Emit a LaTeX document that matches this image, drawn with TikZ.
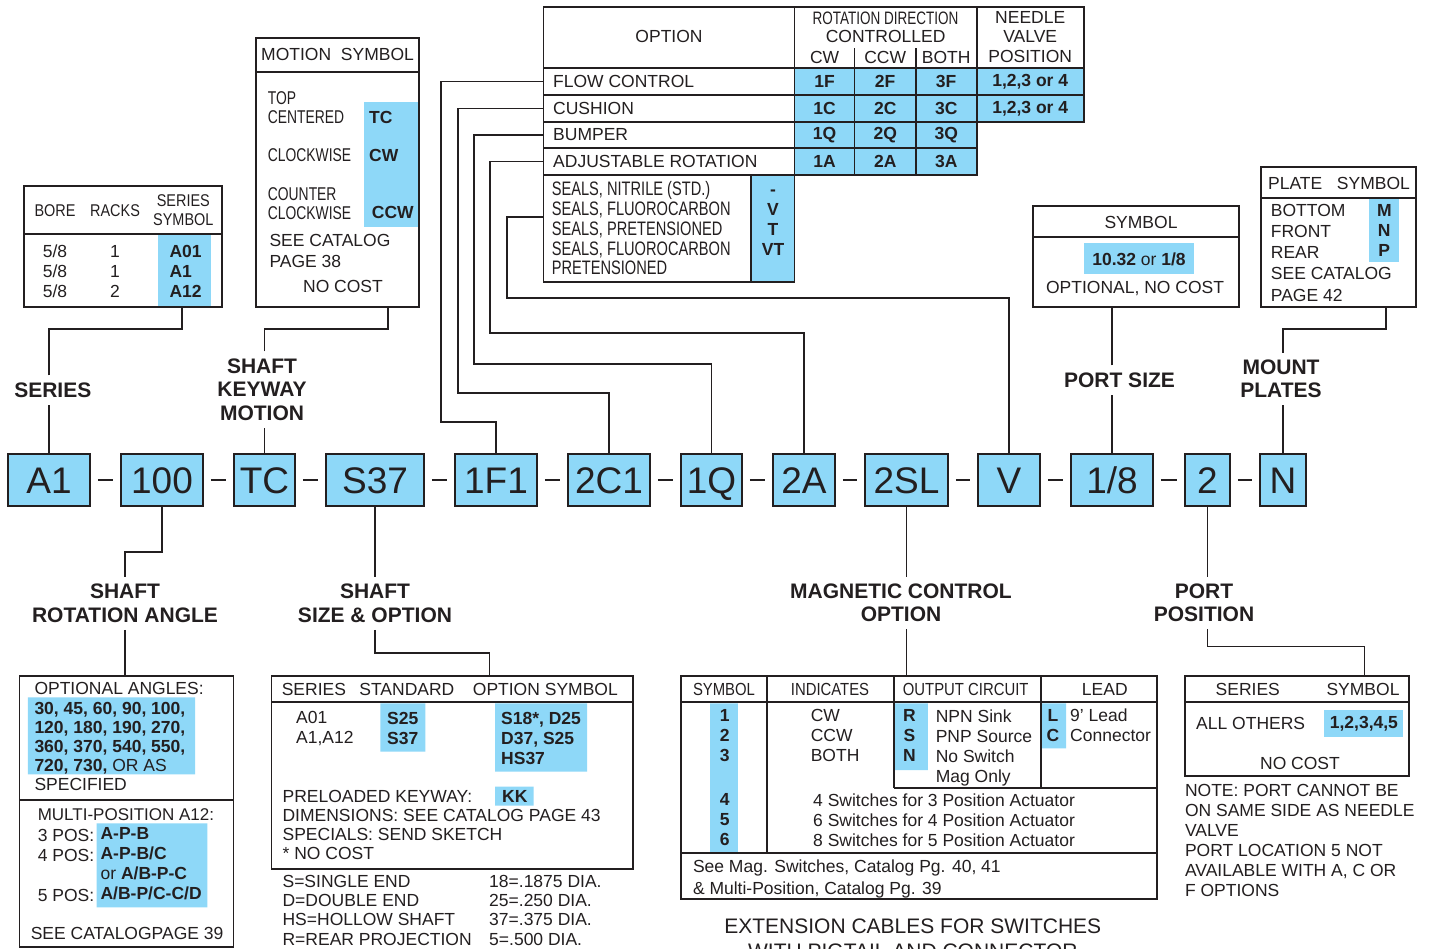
\documentclass[tikz,border=0pt]{standalone}
\usepackage{fontspec}
\setmainfont{Liberation Sans}
\newfontfamily\cond[FakeStretch=0.85]{Liberation Sans}
\newfontfamily\ncond[FakeStretch=0.75]{Liberation Sans}
\usetikzlibrary{positioning}
\definecolor{ink}{HTML}{231F20}
\definecolor{sky}{HTML}{8ED8F8}
\newcommand{\fsz}[2]{\fontsize{#1}{#2}\selectfont}

\tikzset{
  wire/.style={draw=ink, line width=1.5pt},
  frame/.style={draw=ink, line width=1.7pt},
  code/.style={draw=ink, fill=sky, line width=1.8pt, minimum height=52pt, inner sep=0pt,
    text height=27pt, text depth=0pt, text=ink, font=\fsz{37}{40}},
  sep/.style={draw=ink, line width=1.5pt, shorten <=7pt, shorten >=7pt},
  head/.style={text=ink, font=\bfseries\fsz{21}{23.5}, align=center, inner sep=7pt},
  txt/.style={text=ink, font=\fsz{17.5}{20}, inner sep=0pt, anchor=west, align=left},
  ctxt/.style={text=ink, font=\fsz{17.5}{20}, inner sep=0pt, align=center},
  sym/.style={text=ink, font=\bfseries\fsz{17.5}{20}, inner sep=0pt, align=center},
  bsym/.style={txt, font=\bfseries\fsz{17.5}{20}},
  ctitle/.style={ctxt, font=\cond\fsz{17.5}{20}}
}

\begin{document}
\begin{tikzpicture}[x=1pt, y=-1pt]
\useasboundingbox (0,0) rectangle (1430,948);
\fill[white] (0,0) rectangle (1430,948);

% Nodes: the model code
\node[code, minimum width=82pt] (a1) at (49,480) {A1};
\node[code, minimum width=82pt] (n100) at (162,480) {100};
\node[code, minimum width=61pt] (tc) at (264.5,480) {TC};
\node[code, minimum width=98pt] (s37) at (375,480) {S37};
\node[code, minimum width=82pt] (f1) at (496,480) {1F1};
\node[code, minimum width=82pt] (c1) at (609,480) {2C1};
\node[code, minimum width=61pt] (q1) at (711.5,480) {1Q};
\node[code, minimum width=62pt] (a2) at (804,480) {2A};
\node[code, minimum width=83pt] (sl) at (906.5,480) {2SL};
\node[code, minimum width=62pt] (v) at (1009,480) {V};
\node[code, minimum width=82pt] (p18) at (1112,480) {1/8};
\node[code, minimum width=45pt] (p2) at (1207.5,480) {2};
\node[code, minimum width=46pt] (n) at (1283,480) {N};
\draw[sep] (a1.east) -- (n100.west);
\draw[sep] (n100.east) -- (tc.west);
\draw[sep] (tc.east) -- (s37.west);
\draw[sep] (s37.east) -- (f1.west);
\draw[sep] (f1.east) -- (c1.west);
\draw[sep] (c1.east) -- (q1.west);
\draw[sep] (q1.east) -- (a2.west);
\draw[sep] (a2.east) -- (sl.west);
\draw[sep] (sl.east) -- (v.west);
\draw[sep] (v.east) -- (p18.west);
\draw[sep] (p18.east) -- (p2.west);
\draw[sep] (p2.east) -- (n.west);

% Nodes: headings
\node[head] (series) at (52.8,390) {SERIES};
\node[head] (keyway) at (262,389.5) {SHAFT\\KEYWAY\\MOTION};
\node[head] (portsize) at (1119.5,380) {PORT SIZE};
\node[head] (mount) at (1281,379) {MOUNT\\PLATES};
\node[head] (rotang) at (125,603.5) {SHAFT\\ROTATION ANGLE};
\node[head] (shsize) at (375,603.5) {SHAFT\\SIZE \& OPTION};
\node[head] (magopt) at (901,603) {MAGNETIC CONTROL\\OPTION};
\node[head] (portpos) at (1204,603) {PORT\\POSITION};

% Bore table
\fill[sky] (158,235) rectangle (211.3,306.7);
\draw[frame] (24,186) rectangle (222.3,306.7) (24,234.3) -- (222.3,234.3);
\coordinate (boreout) at (182,306.7);
\node[ctitle, font=\cond\fsz{17}{18.3}] (bore) at (55,211) {BORE};
\node[ctitle, font=\cond\fsz{17}{18.3}] (racks) at (115,211) {RACKS};
\node[ctitle, font=\cond\fsz{17}{18.3}] (sersym) at (183.3,210) {SERIES\\SYMBOL};
\node[ctxt] (borecol) at (55,271) {5/8\\5/8\\5/8};
\node[ctxt] (rackcol) at (115,271) {1\\1\\2};
\node[bsym] (sercol) at (169.3,271) {A01\\A1\\A12};

% Motion table
\fill[sky] (364.3,101.7) rectangle (419.3,226.7);
\draw[frame] (255.7,38.3) rectangle (419.3,306.7) (255.7,71.7) -- (419.3,71.7);
\coordinate (motionout) at (388,306.7);
\node[txt] (mothead) at (261,54) {MOTION\ \ SYMBOL};
\node[txt, font=\ncond\fsz{18.5}{19}] (topc) at (267.7,107.8) {TOP\\CENTERED};
\node[txt, font=\ncond\fsz{18.5}{19}] (cwise) at (267.7,155) {CLOCKWISE};
\node[txt, font=\ncond\fsz{18.5}{19}] (ccwise) at (267.7,203.3) {COUNTER\\CLOCKWISE};
\node[bsym] (tcsym) at (369,117.3) {TC};
\node[bsym] (cwsym) at (369,155) {CW};
\node[bsym] (ccwsym) at (371.7,212.7) {CCW};
\node[txt, font=\fsz{17.5}{21.3}] (motcat) at (269.3,251.3) {SEE CATALOG\\PAGE 38};
\node[ctxt] (motcost) at (343,286.7) {NO COST};

% Option table
\fill[sky] (794.6,67.7) rectangle (976.7,175) (976.7,67.7) rectangle (1083.7,121.7)
  (751,175) rectangle (794.6,281.7);
\draw[frame] (543.5,7.3) rectangle (1083.7,121.7);
\draw[frame] (543.5,121.7) rectangle (976.7,175);
\draw[frame] (543.5,175) rectangle (794.6,281.7);
\draw[frame] (543.5,67.7) -- (1083.7,67.7) (543.5,95) -- (1083.7,95)
  (543.5,148.3) -- (976.7,148.3) (794.6,7.3) -- (794.6,175) (976.7,7.3) -- (976.7,121.7)
  (854.6,48) -- (854.6,175) (915.7,48) -- (915.7,175) (751,175) -- (751,281.7);
\coordinate (flowrow) at (543.5,81.3);
\coordinate (cushrow) at (543.5,108.3);
\coordinate (bumprow) at (543.5,135);
\coordinate (adjrow) at (543.5,161.7);
\coordinate (sealrow) at (543.5,217);
\node[ctxt] (opthead) at (669,36) {OPTION};
\node[ctitle, font=\ncond\fsz{18}{18}] (rotdir) at (885.6,18) {ROTATION DIRECTION};
\node[ctxt] (ctrl) at (885.6,36.7) {CONTROLLED};
\node[ctxt] (cwhead) at (824.6,57) {CW};
\node[ctxt] (ccwhead) at (885.2,57) {CCW};
\node[ctxt] (bothhead) at (946.2,57) {BOTH};
\node[ctxt, font=\fsz{17.5}{19.5}] (needle) at (1030.2,37) {NEEDLE\\VALVE\\POSITION};
\node[txt] (flow) at (553,81.3) {FLOW CONTROL};
\node[txt] (cush) at (553,108.3) {CUSHION};
\node[txt] (bump) at (553,135) {BUMPER};
\node[txt] (adj) at (553,161.7) {ADJUSTABLE ROTATION};
\node[sym] (cwf) at (824.6,81.3) {1F};
\node[sym] (ccwf) at (885.2,81.3) {2F};
\node[sym] (bothf) at (946.2,81.3) {3F};
\node[sym] (cwc) at (824.6,108.3) {1C};
\node[sym] (ccwc) at (885.2,108.3) {2C};
\node[sym] (bothc) at (946.2,108.3) {3C};
\node[sym] (cwq) at (824.6,135) {1Q};
\node[sym] (ccwq) at (885.2,135) {2Q};
\node[sym] (bothq) at (946.2,135) {3Q};
\node[sym] (cwa) at (824.6,161.7) {1A};
\node[sym] (ccwa) at (885.2,161.7) {2A};
\node[sym] (botha) at (946.2,161.7) {3A};
\node[sym] (nvf) at (1030.2,81.3) {1,2,3 or 4};
\node[sym] (nvc) at (1030.2,108.3) {1,2,3 or 4};
\node[txt, font=\ncond\fsz{19.5}{19.75}] (seals) at (551.6,228.5)
  {SEALS, NITRILE (STD.)\\SEALS, FLUOROCARBON\\SEALS, PRETENSIONED\\SEALS, FLUOROCARBON\\PRETENSIONED};
\node[sym] (sealsym) at (773,219) {\vphantom{V}-\\V\\T\\VT};

% Port size table
\fill[sky] (1084,242.7) rectangle (1194,274);
\draw[frame] (1033.3,206) rectangle (1239,306.7) (1033.3,236.7) -- (1239,236.7);
\coordinate (symout) at (1112,306.7);
\node[ctxt] (symhead) at (1141,222.3) {SYMBOL};
\node[ctxt] (psize) at (1139,259) {\textbf{10.32} or \textbf{1/8}};
\node[ctxt] (psopt) at (1135,288.3) {OPTIONAL, NO COST};

% Plate table
\fill[sky] (1369.3,199.3) rectangle (1399.3,261.7);
\draw[frame] (1261,167.3) rectangle (1416,306.7) (1261,198.3) -- (1416,198.3);
\coordinate (plateout) at (1386,306.7);
\node[txt] (platehead) at (1268,183.3) {PLATE\ \ \ SYMBOL};
\node[txt, font=\fsz{17.5}{21.1}] (plates) at (1270.7,252.8) {BOTTOM\\FRONT\\REAR\\SEE CATALOG\\PAGE 42};
\node[sym, font=\bfseries\fsz{17.5}{19.7}] (platesym) at (1384.3,230.4) {M\\N\\P};

% Rotation angle table
\fill[sky] (27.8,697.3) rectangle (195,774.3) (96.7,823.3) rectangle (207.3,907.3);
\draw[frame] (19.6,675.7) rectangle (233.5,947) (19.6,800) -- (233.5,800);
\coordinate (angin) at (125,675.7);
\node[txt] (anghead) at (34.3,688.3) {OPTIONAL ANGLES:};
\node[txt, font=\fsz{17.5}{19}] (angles) at (34.3,746.2)
  {\textbf{30, 45, 60, 90, 100,}\\\textbf{120, 180, 190, 270,}\\\textbf{360, 370, 540, 550,}\\\textbf{720, 730,} OR AS\\SPECIFIED};
\node[txt, font=\fsz{17}{20}] (multi) at (37.6,815) {MULTI-POSITION A12:};
\node[txt] (poslbl) at (37.6,865) {3 POS:\\4 POS:\\\mbox{}\\5 POS:};
\node[txt] (posval) at (100.4,864) {\textbf{A-P-B}\\\textbf{A-P-B/C}\\or \textbf{A/B-P-C}\\\textbf{A/B-P/C-C/D}};
\node[txt] (angcat) at (30.6,933.3) {SEE CATALOGPAGE 39};

% Shaft size table
\fill[sky] (380.4,703.3) rectangle (425.3,751.7) (495,703.3) rectangle (587,771.7)
  (495,786.7) rectangle (533.5,805.7);
\draw[frame] (271.4,675.7) rectangle (632.7,869) (271.4,702.3) -- (632.7,702.3);
\coordinate (shaftin) at (489.5,675.7);
\node[txt] (shser) at (281.6,689) {SERIES};
\node[txt] (shstd) at (359.2,689) {STANDARD};
\node[txt] (shopt) at (472.7,689) {OPTION SYMBOL};
\node[txt] (shrow) at (296,728.3) {A01\\A1,A12};
\node[bsym] (shstdv) at (387,728.3) {S25\\S37};
\node[bsym] (shoptv) at (501,738) {S18*, D25\\D37, S25\\HS37};
\node[txt, font=\fsz{17.5}{19}] (shnotes) at (282.4,825)
  {PRELOADED KEYWAY:\\DIMENSIONS: SEE CATALOG PAGE 43\\SPECIALS: SEND SKETCH\\* NO COST};
\node[bsym] (kk) at (502,796.7) {KK};
\node[txt, font=\fsz{17.5}{19.4}] (shends) at (282.4,910.2)
  {S=SINGLE END\\D=DOUBLE END\\HS=HOLLOW SHAFT\\R=REAR PROJECTION};
\node[txt, font=\fsz{17.5}{19.4}] (shdia) at (489,910.2)
  {18=.1875 DIA.\\25=.250 DIA.\\37=.375 DIA.\\5=.500 DIA.};

% Magnetic control table
\fill[sky] (710.2,703.3) rectangle (737.9,852.7) (895,703.3) rectangle (927.9,770)
  (1041.8,703.3) rectangle (1066,748.3);
\draw[frame] (680.7,675.7) rectangle (1157,899.3) (680.7,702.3) -- (1157,702.3)
  (680.7,852.7) -- (1157,852.7) (894,788.3) -- (1157,788.3) (767,675.7) -- (767,852.7)
  (894,675.7) -- (894,788.3) (1040.8,675.7) -- (1040.8,788.3);
\coordinate (magin) at (906.5,675.7);
\node[ctitle] (msymhead) at (724,689) {SYMBOL};
\node[ctitle] (mindhead) at (830,689) {INDICATES};
\node[ctitle] (mouthead) at (965.7,689) {OUTPUT CIRCUIT};
\node[ctxt] (mleadhead) at (1104.8,689) {LEAD};
\node[sym] (msyma) at (724.8,735.7) {1\\2\\3};
\node[sym] (msymb) at (724.8,820) {4\\5\\6};
\node[txt] (mdir) at (810.6,735.7) {CW\\CCW\\BOTH};
\node[sym] (mcirc) at (909.5,735.7) {R\\S\\N};
\node[txt, font=\fsz{17.5}{20.3}] (mcircd) at (935.6,748) {NPN Sink\\PNP Source\\No Switch\\Mag Only};
\node[sym] (mleadsym) at (1053,725.7) {L\\C};
\node[txt] (mleadd) at (1070,725.7) {9' Lead\\Connector};
\node[txt] (mswitch) at (813,820)
  {4 Switches for 3 Position Actuator\\6 Switches for 4 Position Actuator\\8 Switches for 5 Position Actuator};
\node[txt, font=\fsz{17.5}{21.6}] (mnote) at (692.8,879)
  {See Mag. Switches, Catalog Pg. 40, 41\\\& Multi-Position, Catalog Pg. 39};
\node[ctxt, font=\fsz{21}{25}] (extcab) at (912.8,939) {EXTENSION CABLES FOR SWITCHES\\WITH PIGTAIL AND CONNECTOR};

% Port position table
\fill[sky] (1324.4,710) rectangle (1403.4,736.7);
\draw[frame] (1185.3,675.7) rectangle (1409.2,776) (1185.3,702.3) -- (1409.2,702.3);
\coordinate (portin) at (1364.6,675.7);
\node[ctxt] (pser) at (1247.8,689) {SERIES};
\node[ctxt] (psym) at (1363,689) {SYMBOL};
\node[txt] (pall) at (1196,723.3) {ALL OTHERS};
\node[sym] (pvals) at (1363.9,723.3) {1,2,3,4,5};
\node[ctxt] (pcost) at (1300,763.3) {NO COST};
\node[txt] (pnote) at (1184.8,840)
  {NOTE: PORT CANNOT BE\\ON SAME SIDE AS NEEDLE\\VALVE\\PORT LOCATION 5 NOT\\AVAILABLE WITH A, C OR\\F OPTIONS};

% Edges
\draw[wire] (a1.north) -- (a1.north |- series.south);
\draw[wire] (a1.north |- series.north) |- (182,329) -- (boreout);
\draw[wire] (tc.north) -- (tc.north |- keyway.south);
\draw[wire] (tc.north |- keyway.north) |- (388,329) -- (motionout);
\draw[wire] (flowrow) -| (441,422) -| (f1.north);
\draw[wire] (cushrow) -| (458,393) -| (c1.north);
\draw[wire] (bumprow) -| (474,364) -| (q1.north);
\draw[wire] (adjrow) -| (490,333) -| (a2.north);
\draw[wire] (sealrow) -| (507,298) -| (v.north);
\draw[wire] (p18.north) -- (p18.north |- portsize.south);
\draw[wire] (p18.north |- portsize.north) -- (symout);
\draw[wire] (n.north) -- (n.north |- mount.south);
\draw[wire] (n.north |- mount.north) |- (1386,329) -- (plateout);
\draw[wire] (n100.south) |- (125,552) -- (rotang.north);
\draw[wire] (rotang.south) -- (angin);
\draw[wire] (s37.south) -- (s37.south |- shsize.north);
\draw[wire] (s37.south |- shsize.south) |- (489.5,653) -- (shaftin);
\draw[wire] (sl.south) -- (sl.south |- magopt.north);
\draw[wire] (sl.south |- magopt.south) -- (magin);
\draw[wire] (p2.south) -- (p2.south |- portpos.north);
\draw[wire] (p2.south |- portpos.south) |- (1364.6,646.7) -- (portin);
\end{tikzpicture}
\end{document}
